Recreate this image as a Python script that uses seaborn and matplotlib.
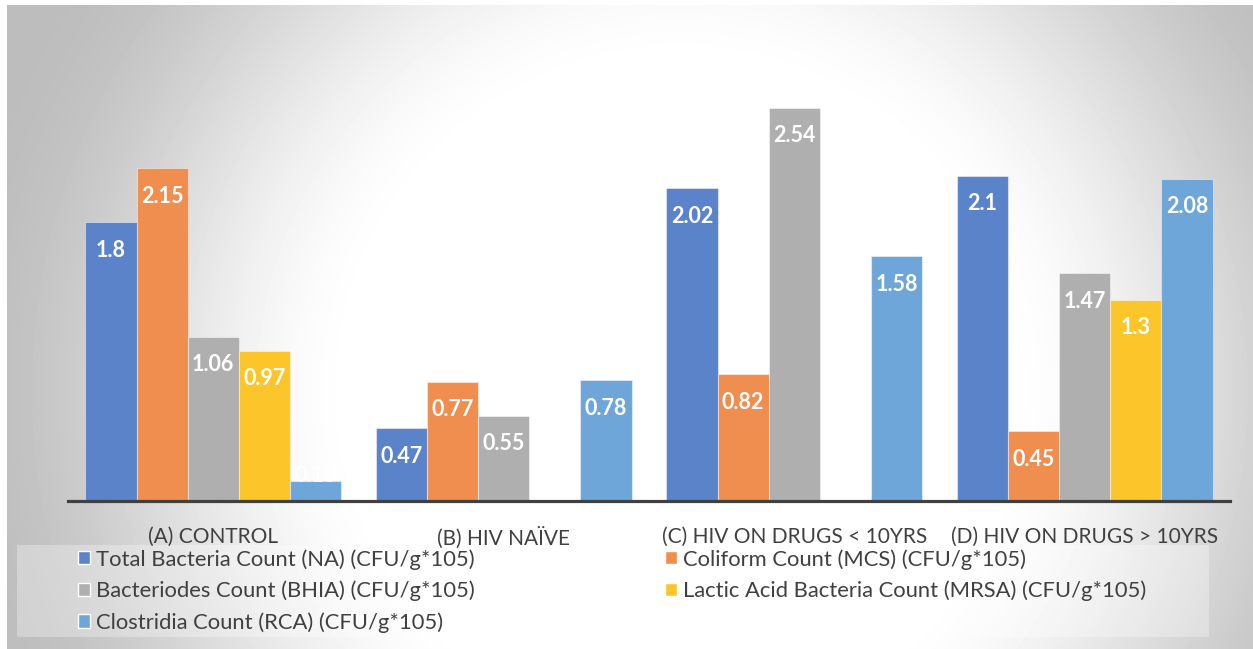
import numpy as np
import pandas as pd
import matplotlib
matplotlib.use("Agg")
import matplotlib.pyplot as plt
from matplotlib.patches import Rectangle
import seaborn as sns

# ---- data -------------------------------------------------------------
groups = ["(A) CONTROL", "(B) HIV NAÏVE", "(C) HIV ON DRUGS < 10YRS", "(D) HIV ON DRUGS > 10YRS"]
series = [
    "Total Bacteria Count (NA) (CFU/g*105)",
    "Coliform Count (MCS) (CFU/g*105)",
    "Bacteriodes Count (BHIA) (CFU/g*105)",
    "Lactic Acid Bacteria Count (MRSA) (CFU/g*105)",
    "Clostridia Count (RCA) (CFU/g*105)",
]
total_bacteria = [1.8, 0.47, 2.02, 2.1]
coliform = [2.15, 0.77, 0.82, 0.45]
bacteriodes = [1.06, 0.55, 2.54, 1.47]
lactic_acid = [0.97, np.nan, np.nan, 1.3]
clostridia = [0.13, 0.78, 1.58, 2.08]

colors = ["#5B83CA", "#EF8E4F", "#AFAFAF", "#FCC52A", "#6FA6D9"]
text_color = "#404040"

values = [total_bacteria, coliform, bacteriodes, lactic_acid, clostridia]
df = pd.DataFrame(
    [(g, s, v) for s, vals in zip(series, values) for g, v in zip(groups, vals)],
    columns=["group", "series", "value"],
)

# ---- figure -----------------------------------------------------------
sns.set_theme(style="white")
plt.rcParams["font.family"] = ["Lato", "DejaVu Sans"]

W, H = 1253, 649
fig = plt.figure(figsize=(W / 100, H / 100), dpi=100, facecolor="white")

# soft radial grey background
bg = fig.add_axes([7 / W, 0, 1 - 7 / W, 1 - 5 / H], zorder=0)
yy, xx = np.mgrid[0:H - 5, 7:W]
yy = yy + 5
t = np.hypot(xx - 680, yy - 390) / 700
s = np.clip((t - 0.45) / 0.6, 0, 1)
s = s * s * (3 - 2 * s)
shade = (255 - 66 * s) / 255
bg.imshow(shade, cmap="gray", vmin=0, vmax=1, aspect="auto", interpolation="bilinear")
bg.set_axis_off()

# legend panel
fig.patches.append(Rectangle((17 / W, (H - 637) / H), 1192 / W, 92 / H,
                             transform=fig.transFigure, facecolor="white",
                             alpha=0.3, edgecolor="none", zorder=1))

ax_h_px = 481
y_max = 3.107
ax = fig.add_axes([68 / W, 148 / H, 1162 / W, ax_h_px / H], zorder=2)
ax.patch.set_alpha(0)

sns.barplot(data=df, x="group", y="value", hue="series", hue_order=series,
            order=groups, palette=colors, width=0.88, saturation=1,
            ax=ax, errorbar=None, legend=True)

ax.set_xlim(-0.5, 3.5)
ax.set_ylim(0, y_max)

# value labels inside the top of each bar (pushed up for very short bars)
px_per_unit = ax_h_px / y_max
for c in ax.containers:
    for p, v in zip(c.patches, c.datavalues):
        p.set_edgecolor((1, 1, 1, 0.45))
        p.set_linewidth(0.8)
        if np.isnan(v):
            continue
        xc = p.get_x() + p.get_width() / 2
        if v * px_per_unit - 28 >= 26:
            xy, off = (xc, v), -28
        else:
            xy, off = (xc, 0), 26
        ax.annotate(f"{v:g}", xy=xy, xytext=(0, off), textcoords="offset pixels",
                    ha="center", va="center", color="white",
                    fontsize=15.5, fontweight="bold")

ax.set_xlabel("")
ax.set_ylabel("")
ax.set_yticks([])
sns.despine(ax=ax, left=True, top=True, right=True)
ax.spines["bottom"].set_color("#404040")
ax.spines["bottom"].set_linewidth(2.3)
ax.tick_params(axis="x", length=0, pad=18.5, labelsize=15, labelcolor=text_color)

handles, labs = ax.get_legend_handles_labels()
ax.get_legend().remove()
order = [0, 2, 4, 1, 3]
fig.legend([handles[i] for i in order], [labs[i] for i in order],
           loc="upper left", bbox_to_anchor=(78 / W, (H - 549) / H),
           ncol=2, frameon=False, fontsize=15.8, labelcolor=text_color,
           handlelength=0.55, handleheight=0.55, handletextpad=0.25,
           labelspacing=0.5, columnspacing=8.7, borderpad=0, borderaxespad=0)

fig.savefig("out.png", dpi=100, facecolor="white")
